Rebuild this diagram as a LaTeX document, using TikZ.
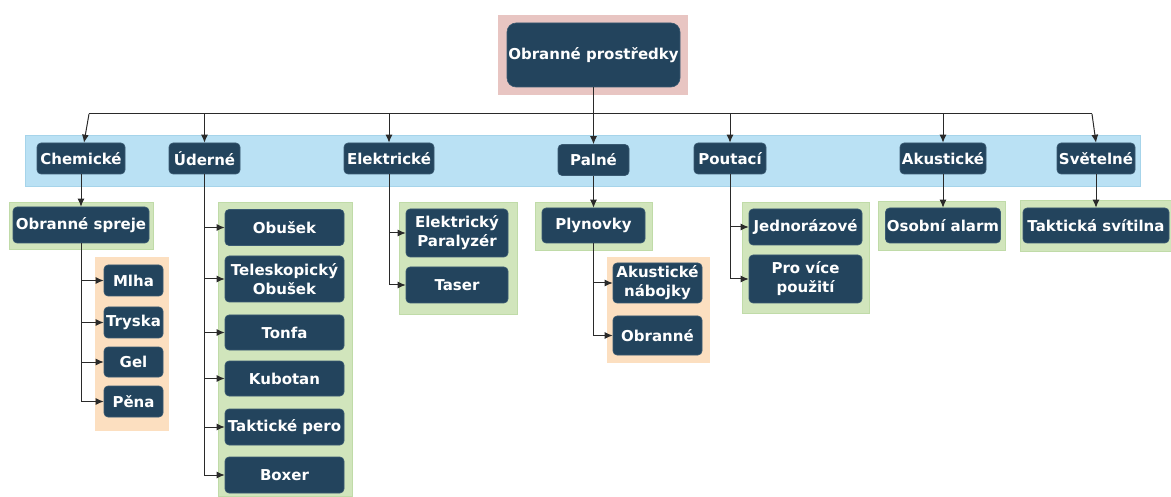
\documentclass[tikz,border=0pt]{standalone}
\usepackage{fontspec}
\setmainfont{DejaVu Sans}
\usetikzlibrary{arrows.meta}

\definecolor{nodeblue}{HTML}{23445D}
\definecolor{nodeedge}{HTML}{3A5A72}
\definecolor{rootpink}{HTML}{E8C5C2}
\definecolor{bandblue}{HTML}{BAE1F4}
\definecolor{bandedge}{HTML}{A6D4EA}
\definecolor{grpgreen}{HTML}{D1E5BC}
\definecolor{grpgreenedge}{HTML}{C0DBA8}
\definecolor{grporange}{HTML}{FCDFC0}
\definecolor{linegray}{HTML}{2A2A2A}

\tikzset{
  item/.style={fill=nodeblue, draw=nodeedge, line width=0.6pt, rounded corners=4pt,
    text=white, font=\fontsize{15}{19}\selectfont\bfseries, align=center,
    inner sep=0pt},
  grpgreen/.style={fill=grpgreen, draw=grpgreenedge, line width=0.8pt},
  grporange/.style={fill=grporange},
  arr/.style={draw=linegray, line width=1pt, -{Latex[length=8pt,width=7pt]}},
  bus/.style={draw=linegray, line width=1pt}
}

\begin{document}
\begin{tikzpicture}[x=1pt,y=-1pt]
\useasboundingbox (0,0) rectangle (1171,497);

% backgrounds
\fill[rootpink] (498,15) rectangle (688,95);
\draw[fill=bandblue, draw=bandedge, line width=0.8pt] (25,135) rectangle (1140,186);
\draw[grpgreen] (9,202) rectangle (153,249);
\fill[grporange] (95,257) rectangle (169,431);
\draw[grpgreen] (218,202) rectangle (352,496);
\draw[grpgreen] (399,202) rectangle (517,314);
\draw[grpgreen] (535,202) rectangle (652,250);
\fill[grporange] (607,257) rectangle (710,363);
\draw[grpgreen] (742,202) rectangle (869,313);
\draw[grpgreen] (878,201) rectangle (1005,250);
\draw[grpgreen] (1020,200) rectangle (1171,251);

% root
\node[item, rounded corners=9pt, minimum width=173, minimum height=64] (root) at (593.5,55) {Obranné prostředky};

% categories
\node[item, minimum width=88, minimum height=31] (chem) at (81,158.5) {Chemické};
\node[item, minimum width=71, minimum height=31] (uder) at (204.5,158.5) {Úderné};
\node[item, minimum width=90, minimum height=31] (elek) at (389,158.5) {Elektrické};
\node[item, minimum width=71, minimum height=31] (paln) at (593.5,160) {Palné};
\node[item, minimum width=72, minimum height=31] (pout) at (730,158.5) {Poutací};
\node[item, minimum width=86, minimum height=31] (akus) at (943,158.5) {Akustické};
\node[item, minimum width=78, minimum height=31] (svet) at (1096,158.5) {Světelné};

% chemicke
\node[item, minimum width=136, minimum height=36] (spreje) at (81,225) {Obranné spreje};
\node[item, minimum width=59, minimum height=31] (mlha) at (133.5,280.5) {Mlha};
\node[item, minimum width=59, minimum height=31] (tryska) at (133.5,322.5) {Tryska};
\node[item, minimum width=59, minimum height=30] (gel) at (133.5,362) {Gel};
\node[item, minimum width=59, minimum height=31] (pena) at (133.5,401.5) {Pěna};

% uderne
\node[item, minimum width=119, minimum height=36] (obusek) at (284.5,227.5) {Obušek};
\node[item, minimum width=119, minimum height=46] (telesk) at (284.5,279) {Teleskopický\\Obušek};
\node[item, minimum width=119, minimum height=35] (tonfa) at (284.5,332.5) {Tonfa};
\node[item, minimum width=119, minimum height=35] (kubotan) at (284.5,378.5) {Kubotan};
\node[item, minimum width=119, minimum height=36] (pero) at (284.5,427) {Taktické pero};
\node[item, minimum width=119, minimum height=36] (boxer) at (284.5,475) {Boxer};

% elektricke
\node[item, minimum width=102, minimum height=48] (paral) at (457,233) {Elektrický\\Paralyzér};
\node[item, minimum width=102, minimum height=36] (taser) at (457,285) {Taser};

% palne
\node[item, minimum width=103, minimum height=35] (plyn) at (593.5,225.5) {Plynovky};
\node[item, minimum width=89, minimum height=40] (naboj) at (657.5,283) {Akustické\\nábojky};
\node[item, minimum width=89, minimum height=39] (obranne) at (657.5,335.5) {Obranné};

% poutaci
\node[item, minimum width=113, minimum height=36] (jedno) at (805.5,227) {Jednorázové};
\node[item, minimum width=113, minimum height=48] (vice) at (805.5,279) {Pro více\\použití};

% akusticke, svetelne
\node[item, minimum width=115, minimum height=35] (alarm) at (943,225.5) {Osobní alarm};
\node[item, minimum width=146, minimum height=35] (svitilna) at (1096,225.5) {Taktická svítilna};

% bus
\coordinate (busL) at (89,114);
\coordinate (busR) at (1092,114);
\draw[bus] (busL) -- (busR);
\draw[arr] (root) -- (paln);
\draw[arr] (busL) -- ([xshift=3]chem.north);
\draw[arr] (busR) -- (svet.north);
\foreach \n in {uder,elek,pout,akus}
  \draw[arr] (\n.north |- busL) -- (\n.north);

% children
\draw[arr] (chem) -- (spreje);
\draw[arr] (paln) -- (plyn);
\draw[arr] (akus) -- (alarm);
\draw[arr] (svet) -- (svitilna);
\foreach \n in {mlha,tryska,gel,pena}
  \draw[arr] (spreje.south) |- (\n.west);
\foreach \n in {obusek,telesk,tonfa,kubotan,pero,boxer}
  \draw[arr] (uder.south) |- (\n.west);
\foreach \n in {paral,taser}
  \draw[arr] (elek.south) |- (\n.west);
\foreach \n in {naboj,obranne}
  \draw[arr] (plyn.south) |- (\n.west);
\foreach \n in {jedno,vice}
  \draw[arr] (pout.south) |- (\n.west);

\end{tikzpicture}
\end{document}
